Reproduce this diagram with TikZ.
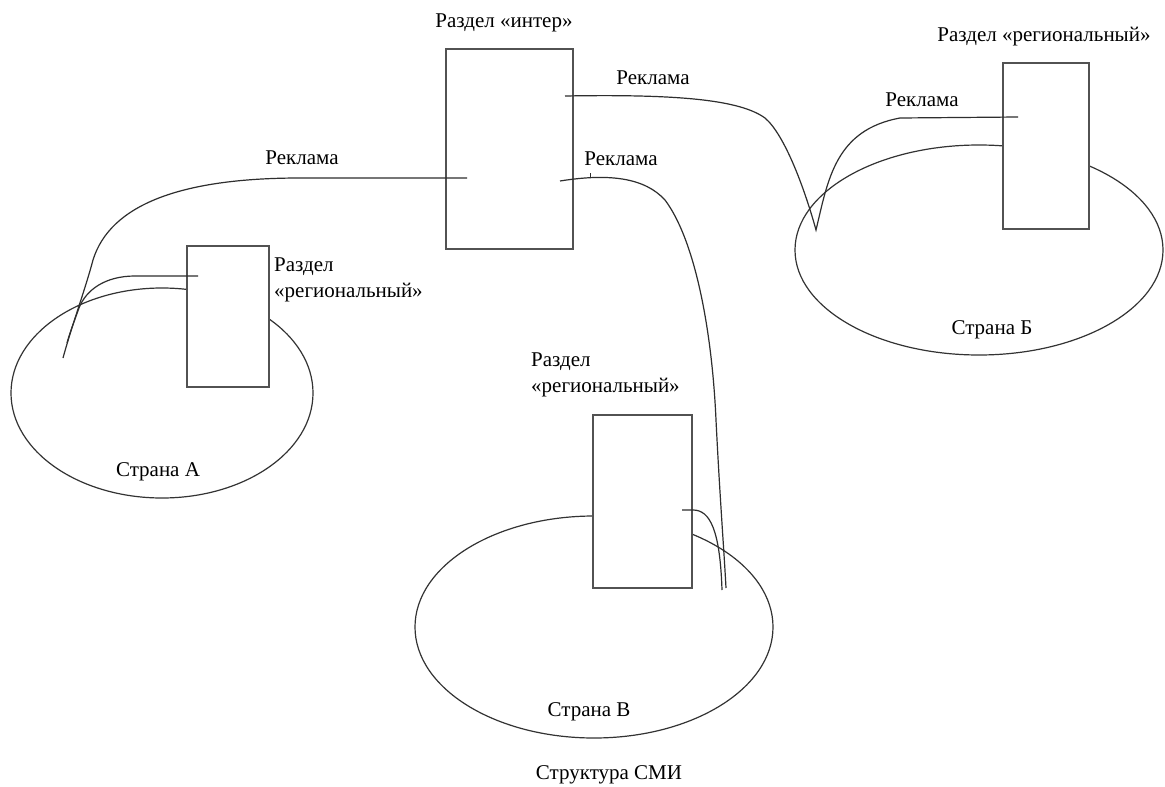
\documentclass[tikz,border=0pt]{standalone}
\usepackage{fontspec}
\setmainfont{Liberation Serif}
\newfontfamily\labelfont[Script=Cyrillic]{Liberation Serif}
\usetikzlibrary{shapes.geometric}
\begin{document}
\begin{tikzpicture}[x=1pt,y=-1pt,
  txt/.style={inner sep=0pt,font=\labelfont\fontsize{21}{26}\selectfont},
  country/.style={draw=black!80,line width=1.2pt,ellipse,inner sep=0pt},
  sect/.style={draw=black!68,line width=1.5pt,fill=white,rectangle,inner sep=0pt},
  wire/.style={draw=black!82,line width=1.2pt}]
\useasboundingbox[fill=white] (0,0) rectangle (1165,787);
% countries
\node[country,minimum width=302pt,minimum height=210pt] (ca) at (162,393) {};
\node[country,minimum width=368pt,minimum height=210pt] (cb) at (979,250) {};
\node[country,minimum width=358pt,minimum height=222pt] (cv) at (594,627) {};
% sections
\node[sect,minimum width=127pt,minimum height=200pt] (inter) at (509.5,149) {};
\node[sect,minimum width=82pt,minimum height=141pt] (ra) at (228,316.5) {};
\node[sect,minimum width=86pt,minimum height=166pt] (rb) at (1046,146) {};
\node[sect,minimum width=99pt,minimum height=173pt] (rv) at (642.5,501.5) {};
% wire end points
\coordinate (iA) at (467,178);
\coordinate (iB) at (565,96);
\coordinate (iV) at (560,181);
\coordinate (eA) at (63,358);
\coordinate (vB) at (816,230);
\coordinate (rB) at (1018,117);
\coordinate (eV) at (726,588);
\coordinate (rA) at (198,276);
\coordinate (eA2) at (67,343);
\coordinate (rV) at (682,510);
\coordinate (eV2) at (722,590);
% wires
\draw[wire] (iA) -- (300,178) .. controls (180,178) and (110,205) .. (93,260)
  .. controls (85,290) and (72,325) .. (eA);
\draw[wire] (rA) -- (135,276) .. controls (105,276) and (86,290) .. (79,308)
  .. controls (74,322) and (70,332) .. (eA2);
\draw[wire] (iB) .. controls (680,94) and (740,100) .. (765,118)
  .. controls (785,135) and (805,190) .. (vB)
  .. controls (828,180) and (835,130) .. (900,118) -- (rB);
\draw[wire] (iV) .. controls (610,173) and (645,178) .. (665,200)
  .. controls (695,240) and (712,330) .. (716,420)
  .. controls (720,500) and (724,550) .. (eV);
\draw[wire] (rV) -- (693,510) .. controls (710,510) and (720,530) .. (eV2);
\draw[wire,line width=0.8pt] (590,173) -- (590,178);
% labels
\node[txt] (tinter) at (504,23) {Раздел «интер»};
\node[txt] (t1) at (653,78) {Реклама};
\node[txt] (t2) at (621,159) {Реклама};
\node[txt] (t3) at (302,158) {Реклама};
\node[txt] (t4) at (922,100) {Реклама};
\node[txt] (trb) at (1044,37) {Раздел «региональный»};
\node[txt,anchor=west,align=left] (tra) at (274,280) {Раздел\\«региональный»};
\node[txt,anchor=west,align=left] (trv) at (531,375) {Раздел\\«региональный»};
\node[txt] (sa) at (158,472) {Страна А};
\node[txt] (sb) at (992,330) {Страна Б};
\node[txt] (sv) at (589,712) {Страна В};
\node[txt] (title) at (609,775) {Структура СМИ};
\end{tikzpicture}
\end{document}
